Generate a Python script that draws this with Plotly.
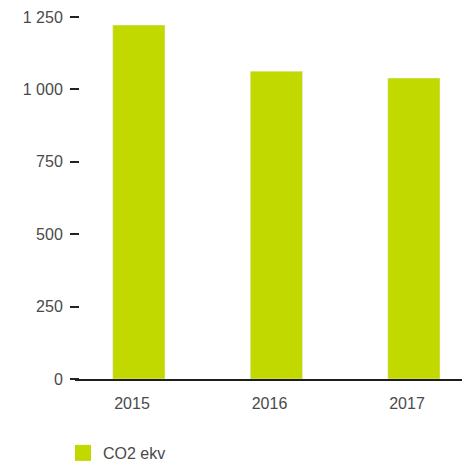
import plotly.graph_objects as go

# data
years = ["2015", "2016", "2017"]
co2_ekv = [1222, 1063, 1039]
y_ticks = [0, 250, 500, 750, 1000, 1250]
y_tick_labels = ["0", "250", "500", "750", "1 000", "1 250"]

colors = {
    "bar": "#c2d900",
    "text": "#4a4a4a",
    "tick": "#222222",
    "axis": "#1e1e1e",
}

# page body has an 8px margin, so the figure is a bit smaller than the window
W, H = 462, 457

fig = go.Figure()
fig.add_trace(
    go.Bar(
        x=years,
        y=co2_ekv,
        name="CO2 ekv",
        marker_color=colors["bar"],
        width=0.38,
        offset=-0.14,
        showlegend=False,
    )
)
# legend proxy so the legend square is the same size as in the original
fig.add_trace(
    go.Scatter(
        x=[None],
        y=[None],
        mode="markers",
        name="CO2 ekv",
        marker=dict(symbol="square", size=16, color=colors["bar"]),
    )
)

fig.update_layout(
    width=W,
    height=H,
    margin=dict(l=67, r=0, t=9, b=86),
    paper_bgcolor="white",
    plot_bgcolor="white",
    font=dict(family="Liberation Sans, Arial, sans-serif", size=16, color=colors["text"]),
    showlegend=True,
    legend=dict(
        orientation="h",
        xref="container",
        yref="container",
        x=55 / W,
        y=1 - 445 / H,
        xanchor="left",
        yanchor="middle",
        font=dict(size=16, color=colors["text"]),
    ),
)

fig.update_xaxes(
    type="category",
    range=[-0.4145, 2.458],
    showgrid=False,
    showline=True,
    linecolor=colors["axis"],
    linewidth=2,
    ticks="",
    ticklabelstandoff=9,
    zeroline=False,
)

fig.update_yaxes(
    range=[0, 1250],
    tickvals=y_ticks,
    ticktext=y_tick_labels,
    showgrid=False,
    zeroline=False,
    showline=False,
    ticks="outside",
    ticklen=9,
    tickwidth=2,
    tickcolor=colors["tick"],
    anchor="free",
    position=4 / 395,
    ticklabelstandoff=4,
)

fig.write_html("out.html")
